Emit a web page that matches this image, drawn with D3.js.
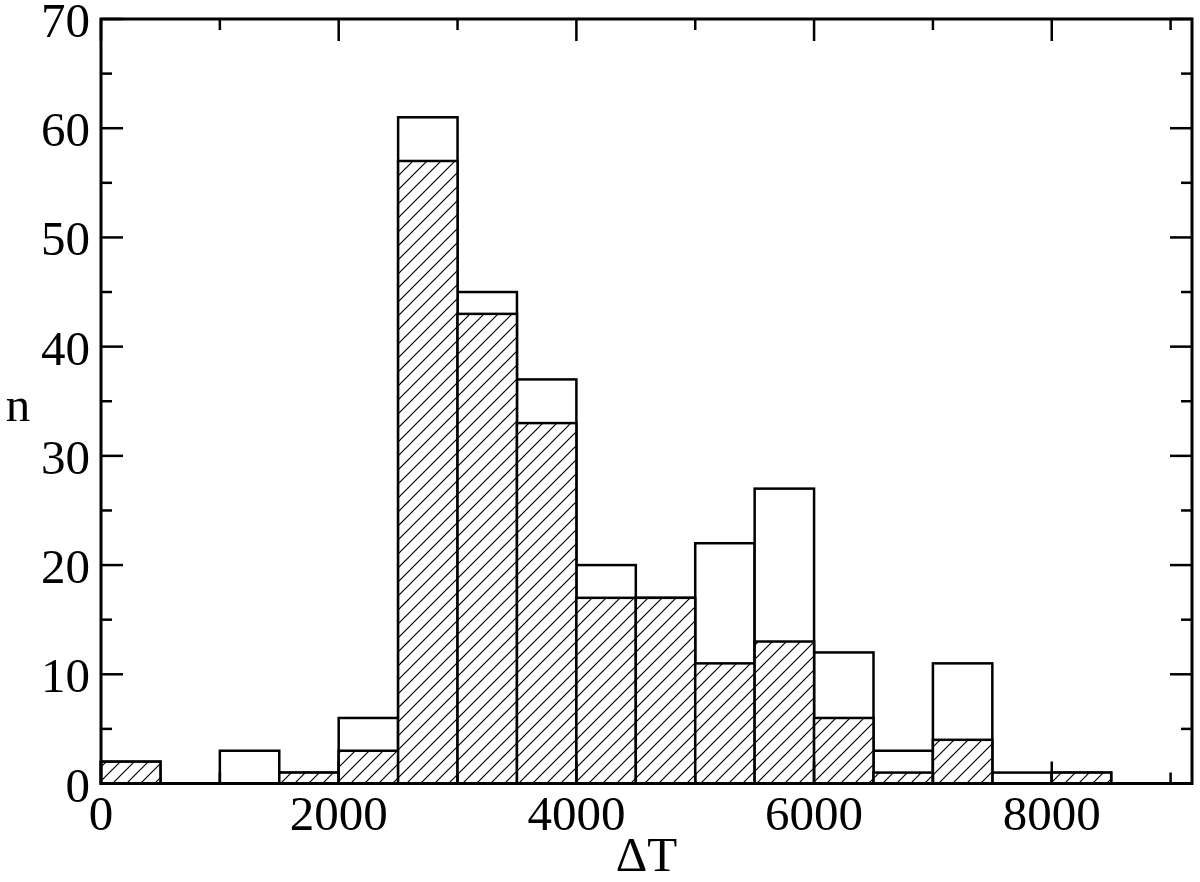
<!DOCTYPE html>
<html>
<head>
<meta charset="utf-8">
<script src="https://cdn.jsdelivr.net/npm/d3@7"></script>
<style>
  html, body { margin: 0; padding: 0; background: #fff; }
  svg { display: block; }
  text { font-family: "Liberation Serif", "Times New Roman", serif; fill: #000; }
</style>
</head>
<body>
<svg id="chart" width="1200" height="882"></svg>
<script>
// Bin left edges (ΔT), bin width 500
const binStarts = [0, 500, 1000, 1500, 2000, 2500, 3000, 3500, 4000, 4500, 5000, 5500, 6000, 6500, 7000, 7500, 8000];
const binWidth = 500;
// Total counts (open bars)
const totalCounts = [2, 0, 3, 1, 6, 61, 45, 37, 20, 17, 22, 27, 12, 3, 11, 1, 1];
// Subset counts (hatched bars)
const hatchedCounts = [2, 0, 0, 1, 3, 57, 43, 33, 17, 17, 11, 13, 6, 1, 4, 0, 1];
const xMajorTicks = [0, 2000, 4000, 6000, 8000];
const xMinorTicks = [1000, 3000, 5000, 7000, 9000];
const yMajorTicks = [0, 10, 20, 30, 40, 50, 60, 70];
const yMinorTicks = [5, 15, 25, 35, 45, 55, 65];
const xLabel = "ΔT";
const yLabel = "n";

const svg = d3.select("#chart");
const L = 101, R = 1192, T = 19, B = 783.5;
const x = d3.scaleLinear().domain([0, 9180]).range([L, R]);
const y = d3.scaleLinear().domain([0, 70]).range([B, T]);

const defs = svg.append("defs");
const pat = defs.append("pattern")
  .attr("id", "hatch").attr("patternUnits", "userSpaceOnUse")
  .attr("width", 14).attr("height", 14);
pat.append("rect").attr("width", 14).attr("height", 14).attr("fill", "#fff");
pat.append("path")
  .attr("d", "M-3.5,3.5 L3.5,-3.5 M0,14 L14,0 M10.5,17.5 L17.5,10.5")
  .attr("stroke", "#000").attr("stroke-width", 1.2);

const totals = binStarts.map((s, i) => ({ s, v: totalCounts[i] })).filter(d => d.v > 0);
const hatched = binStarts.map((s, i) => ({ s, v: hatchedCounts[i] })).filter(d => d.v > 0);

svg.append("g").selectAll("rect").data(totals).join("rect")
  .attr("x", d => x(d.s)).attr("width", d => x(d.s + binWidth) - x(d.s))
  .attr("y", d => y(d.v)).attr("height", d => y(0) - y(d.v))
  .attr("fill", "#fff").attr("stroke", "#000").attr("stroke-width", 2.5);

svg.append("g").selectAll("rect").data(hatched).join("rect")
  .attr("x", d => x(d.s)).attr("width", d => x(d.s + binWidth) - x(d.s))
  .attr("y", d => y(d.v)).attr("height", d => y(0) - y(d.v))
  .attr("fill", "url(#hatch)").attr("stroke", "#000").attr("stroke-width", 2.5);

// Frame
svg.append("rect").attr("x", L).attr("y", T).attr("width", R - L).attr("height", B - T)
  .attr("fill", "none").attr("stroke", "#000").attr("stroke-width", 3);

// Ticks
const tk = svg.append("g").attr("stroke", "#000").attr("stroke-width", 2.5);
const majLen = 22, minLen = 11;
xMajorTicks.forEach(v => {
  tk.append("line").attr("x1", x(v)).attr("x2", x(v)).attr("y1", B).attr("y2", B - majLen);
  tk.append("line").attr("x1", x(v)).attr("x2", x(v)).attr("y1", T).attr("y2", T + majLen);
});
xMinorTicks.forEach(v => {
  tk.append("line").attr("x1", x(v)).attr("x2", x(v)).attr("y1", B).attr("y2", B - minLen);
  tk.append("line").attr("x1", x(v)).attr("x2", x(v)).attr("y1", T).attr("y2", T + minLen);
});
yMajorTicks.forEach(v => {
  tk.append("line").attr("x1", L).attr("x2", L + majLen).attr("y1", y(v)).attr("y2", y(v));
  tk.append("line").attr("x1", R).attr("x2", R - majLen).attr("y1", y(v)).attr("y2", y(v));
});
yMinorTicks.forEach(v => {
  tk.append("line").attr("x1", L).attr("x2", L + minLen).attr("y1", y(v)).attr("y2", y(v));
  tk.append("line").attr("x1", R).attr("x2", R - minLen).attr("y1", y(v)).attr("y2", y(v));
});

// Tick labels
const fs = 49;
svg.append("g").selectAll("text").data(xMajorTicks).join("text")
  .attr("x", d => x(d)).attr("y", B + 46.5)
  .attr("text-anchor", "middle").attr("font-size", fs).text(d => d);
svg.append("g").selectAll("text").data(yMajorTicks).join("text")
  .attr("x", L - 11).attr("y", d => y(d) + 18)
  .attr("text-anchor", "end").attr("font-size", fs).text(d => d);

// Axis labels
svg.append("text").attr("x", (L + R) / 2).attr("y", 871)
  .attr("text-anchor", "middle").attr("font-size", fs).text(xLabel);
svg.append("text").attr("x", 18).attr("y", 421)
  .attr("text-anchor", "middle").attr("font-size", fs).text(yLabel);
</script>
</body>
</html>
